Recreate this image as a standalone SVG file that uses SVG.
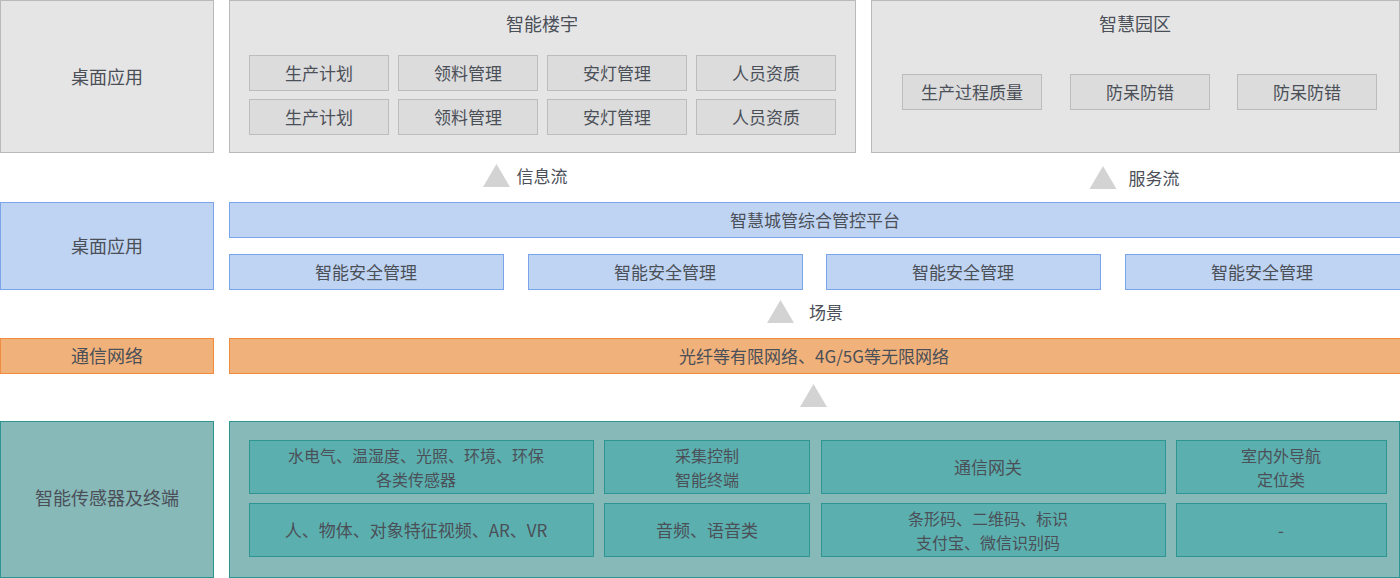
<svg xmlns="http://www.w3.org/2000/svg" width="1400" height="578" viewBox="0 0 1400 578">
<style>
text{font-family:"Noto Sans CJK SC","Noto Sans",sans-serif;fill:#4b4f58;text-anchor:middle;dominant-baseline:central}
.lg{font-size:18px}
.md{font-size:17px}
.sm{font-size:16px}
.g{fill:#e5e5e5;stroke:#b9b9b9;stroke-width:1}
.gs{fill:#dcdcdc;stroke:#bcbcbc;stroke-width:1}
.b{fill:#bfd4f2;stroke:#7aa5ea;stroke-width:1}
.o{fill:#f0b27a;stroke:#f08c3f;stroke-width:1}
.t{fill:#86b9b8;stroke:#2f9593;stroke-width:1}
.ts{fill:#5bafae;stroke:#2f9593;stroke-width:1}
.tri{fill:#d3d3d3}
</style>
<g id="row1-label"><rect class="g" x="0.5" y="0.5" width="213" height="152"/><text class="lg" x="107" y="76">桌面应用</text></g>
<g id="building"><rect class="g" x="229.5" y="0.5" width="626" height="152"/><text class="lg" x="542" y="23">智能楼宇</text>
<rect class="gs" x="249.5" y="55.5" width="139" height="35"/><text class="md" x="319" y="72">生产计划</text>
<rect class="gs" x="398.5" y="55.5" width="139" height="35"/><text class="md" x="468" y="72">领料管理</text>
<rect class="gs" x="547.5" y="55.5" width="139" height="35"/><text class="md" x="617" y="72">安灯管理</text>
<rect class="gs" x="696.5" y="55.5" width="139" height="35"/><text class="md" x="766" y="72">人员资质</text>
<rect class="gs" x="249.5" y="99.5" width="139" height="35"/><text class="md" x="319" y="116">生产计划</text>
<rect class="gs" x="398.5" y="99.5" width="139" height="35"/><text class="md" x="468" y="116">领料管理</text>
<rect class="gs" x="547.5" y="99.5" width="139" height="35"/><text class="md" x="617" y="116">安灯管理</text>
<rect class="gs" x="696.5" y="99.5" width="139" height="35"/><text class="md" x="766" y="116">人员资质</text></g>
<g id="park"><rect class="g" x="871.5" y="0.5" width="528" height="152"/><text class="lg" x="1135" y="23">智慧园区</text>
<rect class="gs" x="902.5" y="74.5" width="139" height="35"/><text class="md" x="972" y="91">生产过程质量</text>
<rect class="gs" x="1070.5" y="74.5" width="139" height="35"/><text class="md" x="1140" y="91">防呆防错</text>
<rect class="gs" x="1237.5" y="74.5" width="139" height="35"/><text class="md" x="1307" y="91">防呆防错</text></g>
<g id="connectors">
<polygon class="tri" points="496.5,164 510,187 483,187"/><text class="md" x="542" y="175">信息流</text>
<polygon class="tri" points="1103,166 1116.5,189 1089.5,189"/><text class="md" x="1154" y="177">服务流</text>
<polygon class="tri" points="780.5,300 794,323 767,323"/><text class="md" x="826" y="311">场景</text>
<polygon class="tri" points="813.5,384 827,407 800,407"/>
</g>
<g id="row2-label"><rect class="b" x="0.5" y="202.5" width="213" height="87"/><text class="lg" x="107" y="245">桌面应用</text></g>
<g id="platform"><rect class="b" x="229.5" y="202.5" width="1171" height="35"/><text class="md" x="815" y="219">智慧城管综合管控平台</text>
<rect class="b" x="229.5" y="254.5" width="274" height="35"/><text class="md" x="366" y="271">智能安全管理</text>
<rect class="b" x="528.5" y="254.5" width="274" height="35"/><text class="md" x="665" y="271">智能安全管理</text>
<rect class="b" x="826.5" y="254.5" width="274" height="35"/><text class="md" x="963" y="271">智能安全管理</text>
<rect class="b" x="1125.5" y="254.5" width="275" height="35"/><text class="md" x="1262" y="271">智能安全管理</text></g>
<g id="row3-label"><rect class="o" x="0.5" y="338.5" width="213" height="35"/><text class="lg" x="107" y="355">通信网络</text></g>
<g id="network"><rect class="o" x="229.5" y="338.5" width="1171" height="35"/><text class="md" x="814" y="355">光纤等有限网络、4G/5G等无限网络</text></g>
<g id="row4-label"><rect class="t" x="0.5" y="421.5" width="213" height="156"/><text class="lg" x="107" y="497">智能传感器及终端</text></g>
<g id="sensors"><rect class="t" x="229.5" y="421.5" width="1170" height="156"/>
<rect class="ts" x="249.5" y="440.5" width="344" height="53"/><text class="sm" x="416" y="455">水电气、温湿度、光照、环境、环保</text><text class="sm" x="416" y="479">各类传感器</text>
<rect class="ts" x="604.5" y="440.5" width="205" height="53"/><text class="sm" x="707" y="455">采集控制</text><text class="sm" x="707" y="479">智能终端</text>
<rect class="ts" x="821.5" y="440.5" width="344" height="53"/><text class="md" x="988" y="466">通信网关</text>
<rect class="ts" x="1176.5" y="440.5" width="210" height="53"/><text class="sm" x="1281" y="455">室内外导航</text><text class="sm" x="1281" y="479">定位类</text>
<rect class="ts" x="249.5" y="503.5" width="344" height="53"/><text class="md" x="416" y="529">人、物体、对象特征视频、AR、VR</text>
<rect class="ts" x="604.5" y="503.5" width="205" height="53"/><text class="md" x="707" y="529">音频、语音类</text>
<rect class="ts" x="821.5" y="503.5" width="344" height="53"/><text class="sm" x="988" y="518">条形码、二维码、标识</text><text class="sm" x="988" y="542">支付宝、微信识别码</text>
<rect class="ts" x="1176.5" y="503.5" width="210" height="53"/><text class="md" x="1281" y="529">-</text></g>
</svg>
